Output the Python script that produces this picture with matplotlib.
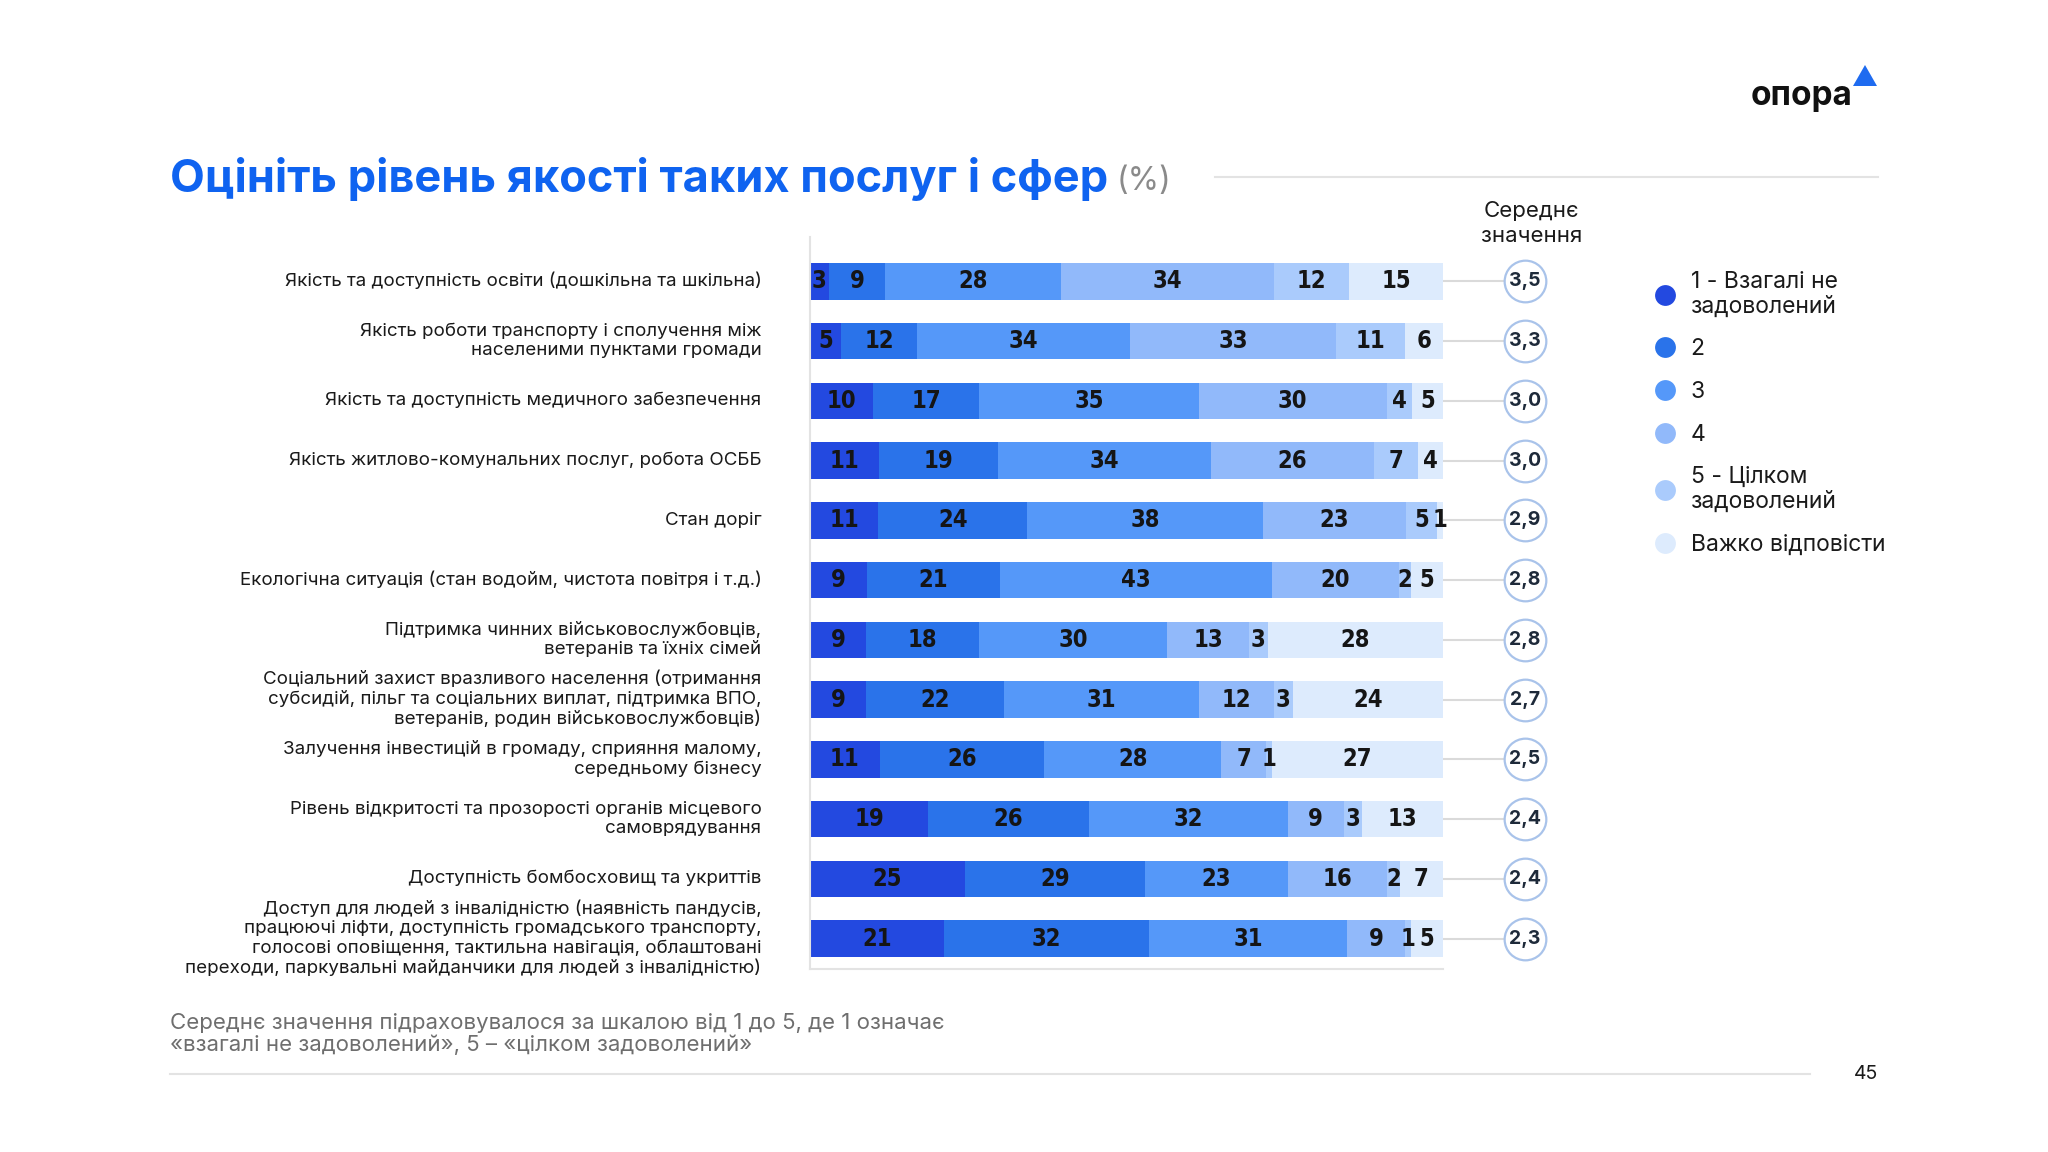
import matplotlib
matplotlib.use("Agg")
import matplotlib.pyplot as plt
from matplotlib.lines import Line2D
from matplotlib.patches import Polygon
import numpy as np

plt.rcParams['font.family'] = ['Inter', 'DejaVu Sans']

categories = [
    "Якість та доступність освіти (дошкільна та шкільна)",
    "Якість роботи транспорту і сполучення між\nнаселеними пунктами громади",
    "Якість та доступність медичного забезпечення",
    "Якість житлово-комунальних послуг, робота ОСББ",
    "Стан доріг",
    "Екологічна ситуація (стан водойм, чистота повітря і т.д.)",
    "Підтримка чинних військовослужбовців,\nветеранів та їхніх сімей",
    "Соціальний захист вразливого населення (отримання\nсубсидій, пільг та соціальних виплат, підтримка ВПО,\nветеранів, родин військовослужбовців)",
    "Залучення інвестицій в громаду, сприяння малому,\nсередньому бізнесу",
    "Рівень відкритості та прозорості органів місцевого\nсамоврядування",
    "Доступність бомбосховищ та укриттів",
    "Доступ для людей з інвалідністю (наявність пандусів,\nпрацюючі ліфти, доступність громадського транспорту,\nголосові оповіщення, тактильна навігація, облаштовані\nпереходи, паркувальні майданчики для людей з інвалідністю)",
]

series_names = ["1 - Взагалі не\nзадоволений", "2", "3", "4", "5 - Цілком\nзадоволений", "Важко відповісти"]

s1 = [3, 5, 10, 11, 11, 9, 9, 9, 11, 19, 25, 21]
s2 = [9, 12, 17, 19, 24, 21, 18, 22, 26, 26, 29, 32]
s3 = [28, 34, 35, 34, 38, 43, 30, 31, 28, 32, 23, 31]
s4 = [34, 33, 30, 26, 23, 20, 13, 12, 7, 9, 16, 9]
s5 = [12, 11, 4, 7, 5, 2, 3, 3, 1, 3, 2, 1]
s6 = [15, 6, 5, 4, 1, 5, 28, 24, 27, 13, 7, 5]

means = ["3,5", "3,3", "3,0", "3,0", "2,9", "2,8", "2,8", "2,7", "2,5", "2,4", "2,4", "2,3"]

colors = ['#2349E0', '#2A73EA', '#5598F9', '#91B9FA', '#AACBFC', '#DDEBFD']

W, H = 2048, 1152
fig = plt.figure(figsize=(W / 100, H / 100), dpi=100)
fig.patch.set_facecolor('white')

def fx(px):
    return px / W

def fy(py):
    return 1 - py / H

ax_left, ax_right, ax_top, ax_bot = 810, 1443, 236.5, 968.5
ax = fig.add_axes([fx(ax_left), fy(ax_bot), fx(ax_right - ax_left), (ax_bot - ax_top) / H])

data = np.array([s1, s2, s3, s4, s5, s6], dtype=float)
totals = data.sum(axis=0)
norm = data / totals * 100
n = len(categories)
y = np.arange(n)
left = np.zeros(n)
for k in range(6):
    ax.barh(y, norm[k], left=left, height=0.61, color=colors[k], edgecolor='none', zorder=2)
    for i in range(n):
        ax.text(left[i] + norm[k][i] / 2, y[i], str(int(data[k][i])), ha='center', va='center',
                fontsize=17, fontweight='bold', color='#151515',
                family=['DejaVu Sans'], fontstretch='condensed', zorder=3)
    left += norm[k]

ax.set_xlim(0, 100)
ax.set_ylim(11.5, -0.75)
ax.set_xticks([])
ax.set_yticks(y)
ax.set_yticklabels(categories, fontsize=13.5, color='#1a1a1a', linespacing=1.2)
for t in ax.get_yticklabels():
    t.set_va('center')
ax.tick_params(axis='y', length=0, pad=35)
for s in ['top', 'right']:
    ax.spines[s].set_visible(False)
for s in ['left', 'bottom']:
    ax.spines[s].set_color('#E3E3E3')
    ax.spines[s].set_linewidth(1.5)

# mean circles
cx = (1525 - ax_left) / (ax_right - ax_left) * 100
for i in range(n):
    ax.plot([100, cx], [y[i], y[i]], color='#DADADA', lw=1.5, clip_on=False, zorder=1)
ax.scatter([cx] * n, y, s=900, facecolor='white', edgecolor='#A9C3EA', linewidth=1.6,
           clip_on=False, zorder=4)
for i in range(n):
    ax.text(cx, y[i], means[i], ha='center', va='center', fontsize=14, fontweight='bold',
            color='#1E2A3A', zorder=5, clip_on=False)
ax.text(cx + 1.0, -0.97, "Середнє\nзначення", ha='center', va='center', fontsize=16,
        color='#1a1a1a', linespacing=1.3, clip_on=False)

# legend
handles = [Line2D([0], [0], marker='o', linestyle='none', markersize=15,
                  markerfacecolor=c, markeredgecolor='none') for c in colors]
leg = fig.legend(handles, series_names, loc='upper left',
                 bbox_to_anchor=(fx(1654), fy(271)), frameon=False, fontsize=16.5,
                 handlelength=1.0, handletextpad=0.6, labelspacing=0.9, borderpad=0,
                 borderaxespad=0)
for t in leg.get_texts():
    t.set_color('#1a1a1a')
    t.set_linespacing(1.15)

# title
title = fig.text(fx(170), fy(179), "Оцініть рівень якості таких послуг і сфер", fontsize=32.5,
                 fontweight='bold', color='#0F63F0', ha='left', va='center')
fig.canvas.draw()
bb = title.get_window_extent(renderer=fig.canvas.get_renderer())
fig.text(fx(bb.x1 + 9), fy(181), "(%)", fontsize=23, color='#8A8A8A', ha='left', va='center')
fig.add_artist(Line2D([fx(1215), fx(1878)], [fy(177), fy(177)], color='#E3E3E3', lw=1.5))

# logo
fig.text(fx(1852), fy(105), "опора", fontsize=24, fontweight='bold', color='#111111',
         ha='right', va='baseline')
fig.add_artist(Polygon([[fx(1853), fy(86)], [fx(1877), fy(86)], [fx(1865), fy(65)]],
                       closed=True, facecolor='#1E6BF0', edgecolor='none',
                       transform=fig.transFigure))

# footnote
fig.text(fx(170), fy(1034), "Середнє значення підраховувалося за шкалою від 1 до 5, де 1 означає\n«взагалі не задоволений», 5 – «цілком задоволений»",
         fontsize=16, color='#6E6E6E', ha='left', va='center', linespacing=1.15)
fig.add_artist(Line2D([fx(170), fx(1810)], [fy(1074), fy(1074)], color='#E3E3E3', lw=1.5))
fig.text(fx(1866), fy(1074), "45", fontsize=14, color='#1a1a1a', ha='center', va='center')

fig.savefig("out.png", dpi=100)
